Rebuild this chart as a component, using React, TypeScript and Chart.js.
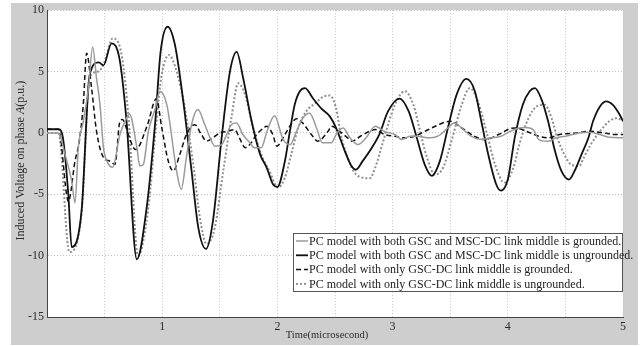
import React, { useEffect, useRef } from "react";
import { Chart, registerables } from "chart.js";

Chart.register(...registerables);

const legendLabels = [
  "PC model with both GSC and MSC-DC link middle is grounded.",
  "PC model with both GSC and MSC-DC link middle is ungrounded.",
  "PC model with only GSC-DC link middle is grounded.",
  "PC model with only GSC-DC link middle is ungrounded.",
];
const xTitle = "Time(microsecond)";
const yTitleParts = ["Induced Voltage on phase ", "A", "(p.u.)"];

// Series 1: both grounded (gray solid)
const bothGroundedX = [0, 0.1, 0.156, 0.214, 0.243, 0.272, 0.315, 0.36, 0.396, 0.43, 0.46, 0.49, 0.52, 0.57, 0.633, 0.69, 0.715, 0.78, 0.806, 0.835, 0.88, 0.94, 0.98, 1.04, 1.125, 1.165, 1.21, 1.255, 1.31, 1.37, 1.416, 1.457, 1.516, 1.56, 1.6, 1.646, 1.7, 1.75, 1.8, 1.86, 1.91, 1.975, 2.05, 2.11, 2.166, 2.22, 2.28, 2.34, 2.39, 2.47, 2.51, 2.57, 2.63, 2.7, 2.77, 2.85, 2.93, 3.02, 3.08, 3.15, 3.22, 3.3, 3.39, 3.48, 3.53, 3.6, 3.68, 3.77, 3.85, 3.94, 4.02, 4.1, 4.15, 4.22, 4.27, 4.35, 4.42, 4.5, 4.62, 4.71, 4.8, 4.88, 5.0];
const bothGroundedY = [0, 0, -1.75, -3.9, -5.7, -1.2, 0.95, 3.65, 7.0, 4.46, 2.3, -1.2, -2.3, -2.8, -0.13, 1.2, 1.55, -1.2, -2.7, -2.6, 0.13, 2.0, 3.37, 2.3, -3.1, -4.6, -2.0, 0.67, 1.9, 0.67, -0.4, -1.08, -0.95, -0.13, 0.67, 0.8, -0.13, -0.67, -1.2, -1.2, 0.13, 1.4, -0.54, -0.95, 0.13, 1.2, 1.6, 0.4, -0.8, -0.8, -0.13, 0.4, -0.4, -0.95, -0.4, 0.54, 0.13, -0.13, -0.54, -0.27, -0.27, -0.4, -0.27, 0.4, 0.8, 0.4, -0.27, -0.54, -0.4, -0.27, 0.13, 0.4, 0.45, 0.27, -0.54, -0.67, -0.4, -0.27, 0, 0.05, -0.13, -0.35, -0.4];

// Series 2: both ungrounded (black solid)
const bothUngroundedX = [0, 0.1, 0.14, 0.185, 0.214, 0.3, 0.37, 0.45, 0.49, 0.56, 0.63, 0.69, 0.78, 0.865, 0.94, 0.986, 1.047, 1.11, 1.18, 1.255, 1.313, 1.38, 1.44, 1.516, 1.588, 1.646, 1.703, 1.776, 1.85, 1.906, 1.963, 2.0, 2.065, 2.108, 2.15, 2.195, 2.24, 2.31, 2.38, 2.455, 2.51, 2.586, 2.643, 2.68, 2.74, 2.8, 2.886, 2.96, 3.06, 3.14, 3.21, 3.28, 3.34, 3.41, 3.48, 3.555, 3.64, 3.714, 3.77, 3.83, 3.9, 3.94, 4.0, 4.06, 4.13, 4.19, 4.235, 4.29, 4.35, 4.41, 4.465, 4.53, 4.58, 4.64, 4.7, 4.74, 4.8, 4.856, 4.91, 4.97, 5.0];
const bothUngroundedY = [0.3, 0.3, -0.5, -5, -9.3, -6.35, 4.7, 5.75, 5.5, 7.3, 6.0, 1.0, -10.3, -6.1, 0.95, 6.6, 8.65, 7.2, 2.8, -3.1, -7.7, -9.45, -7.2, -0.4, 5.0, 6.6, 4.46, 0.95, -1.75, -2.8, -4.2, -4.4, -2.3, 0.1, 2.3, 3.4, 3.65, 2.8, 2.0, 1.35, 0.4, -1.5, -2.7, -3.0, -2.3, -1.5, -0.1, 1.75, 2.8, 1.75, -0.4, -2.6, -3.5, -2.3, 0.4, 3.1, 4.4, 3.4, 0.95, -1.75, -4.2, -4.7, -3.8, -0.4, 2.3, 3.4, 3.65, 2.8, 0.95, -1.5, -3.1, -3.8, -3.1, -1.75, -0.4, 0.95, 2.16, 2.57, 2.3, 1.5, 0.95];

// Series 3: only GSC grounded (black dashed)
const gscGroundedX = [0, 0.1, 0.17, 0.185, 0.243, 0.28, 0.315, 0.344, 0.387, 0.43, 0.49, 0.546, 0.59, 0.633, 0.655, 0.706, 0.75, 0.77, 0.87, 0.95, 0.995, 1.053, 1.096, 1.153, 1.21, 1.284, 1.34, 1.385, 1.44, 1.5, 1.57, 1.63, 1.67, 1.72, 1.76, 1.82, 1.88, 1.906, 1.96, 1.995, 2.065, 2.137, 2.166, 2.22, 2.295, 2.35, 2.44, 2.47, 2.54, 2.61, 2.65, 2.72, 2.8, 2.85, 2.93, 3.02, 3.1, 3.19, 3.28, 3.37, 3.5, 3.6, 3.71, 3.8, 3.92, 4.02, 4.07, 4.16, 4.27, 4.35, 4.45, 4.6, 4.71, 4.83, 4.93, 5.0];
const gscGroundedY = [0.3, 0.3, -5.0, -5.6, -2.3, -0.7, 2.3, 6.5, 3.65, 0.13, -2.0, -2.3, -2.57, 0.95, 1.1, -0.13, -1.2, -1.35, 0.6, 2.8, 0.5, -2.3, -3.1, -1.75, -0.13, 0.67, -0.13, -0.67, -0.4, 0, 0.13, 0.27, -0.4, -1.2, -0.95, -0.13, 0.4, 0.54, -0.13, -1.08, -0.13, 0.95, 1.16, 0.8, -0.13, -0.67, 0.13, 0.54, 0.13, -0.4, -0.67, -0.27, 0.13, 0.27, -0.13, -0.27, -0.4, -0.27, 0.13, 0.54, 0.95, 0.4, -0.27, -0.54, -0.13, 0.35, 0.4, 0.13, -0.27, -0.4, -0.13, 0, 0.13, 0, -0.13, -0.13];

// Series 4: only GSC ungrounded (gray dotted)
const gscUngroundedX = [0, 0.1, 0.194, 0.3, 0.37, 0.445, 0.5, 0.57, 0.648, 0.71, 0.79, 0.88, 0.95, 0.995, 1.059, 1.125, 1.197, 1.27, 1.327, 1.385, 1.457, 1.53, 1.6, 1.66, 1.72, 1.79, 1.86, 1.93, 2.006, 2.065, 2.12, 2.18, 2.25, 2.33, 2.41, 2.455, 2.51, 2.55, 2.61, 2.67, 2.74, 2.8, 2.85, 2.91, 2.97, 3.02, 3.106, 3.18, 3.24, 3.29, 3.37, 3.44, 3.51, 3.6, 3.67, 3.74, 3.82, 3.89, 3.97, 4.05, 4.1, 4.18, 4.25, 4.32, 4.38, 4.43, 4.49, 4.55, 4.62, 4.66, 4.72, 4.8, 4.88, 4.94, 5.0];
const gscUngroundedY = [0, 0, -9.7, -6.6, 4.5, 5.0, 5.8, 7.7, 6.35, 1.0, -10.0, -6.1, 0.95, 4.7, 6.35, 5.0, 2.0, -2.6, -6.9, -9.05, -7.7, -3.1, 1.2, 4.05, 3.1, 0.4, -1.75, -3.1, -4.45, -3.65, -1.75, 0.4, 1.75, 2.43, 3.0, 3.05, 2.0, -0.1, -2.0, -3.24, -3.65, -3.7, -2.8, -0.95, 0.95, 2.3, 3.4, 2.3, 0.1, -1.75, -3.4, -2.8, -0.7, 2.3, 3.65, 2.57, -0.1, -2.6, -4.05, -2.8, -0.95, 1.2, 2.16, 2.3, 1.2, -0.4, -1.75, -2.57, -2.7, -2.0, -0.95, 0.13, 0.95, 1.2, 1.0];

const yTicks = [-15, -10, -5, 0, 5, 10];
const xMin = 0;
const xMax = 5;

const SERIF = "'Liberation Serif', 'Times New Roman', serif";

function pts(xs: number[], ys: number[]) {
  return xs.map((x, i) => ({ x, y: ys[i] }));
}

const panelPlugin = {
  id: "panel",
  beforeDraw(chart: any) {
    const ctx = chart.ctx;
    const a = chart.chartArea;
    ctx.save();
    ctx.fillStyle = "#ffffff";
    ctx.fillRect(0, 0, chart.width, chart.height);
    ctx.fillStyle = "#cecece";
    ctx.fillRect(11, 3, 627, 342);
    ctx.fillStyle = "#ffffff";
    ctx.fillRect(a.left, a.top, a.right - a.left, a.bottom - a.top);
    ctx.restore();
  },
};

const textPlugin = {
  id: "texts",
  afterDraw(chart: any) {
    const ctx = chart.ctx;
    const a = chart.chartArea;
    ctx.save();
    ctx.fillStyle = "#2a2a2a";
    ctx.textBaseline = "middle";
    // x title
    ctx.font = `10.5px ${SERIF}`;
    ctx.textAlign = "center";
    ctx.fillText(xTitle, 327, 335);
    // y title
    ctx.translate(21, (a.top + a.bottom) / 2 - 3);
    ctx.rotate(-Math.PI / 2);
    ctx.textAlign = "left";
    const fonts = [`12px ${SERIF}`, `italic 12px ${SERIF}`, `12px ${SERIF}`];
    let total = 0;
    const widths = yTitleParts.map((p, i) => {
      ctx.font = fonts[i];
      const w = ctx.measureText(p).width;
      total += w;
      return w;
    });
    let x = -total / 2;
    yTitleParts.forEach((p, i) => {
      ctx.font = fonts[i];
      ctx.fillText(p, x, 0);
      x += widths[i];
    });
    ctx.restore();

    // legend
    const boxL = 293;
    const boxR = a.right;
    const boxT = 233;
    const boxB = 292;
    ctx.save();
    ctx.fillStyle = "#ffffff";
    ctx.fillRect(boxL, boxT, boxR - boxL, boxB - boxT);
    ctx.strokeStyle = "#555555";
    ctx.lineWidth = 1;
    ctx.strokeRect(boxL + 0.5, boxT + 0.5, boxR - boxL - 1, boxB - boxT - 1);
    ctx.font = `12px ${SERIF}`;
    ctx.textBaseline = "middle";
    ctx.textAlign = "left";
    chart.data.datasets.forEach((ds: any, i: number) => {
      const yy = boxT + 8 + i * 14.3;
      ctx.save();
      ctx.strokeStyle = ds.borderColor;
      ctx.lineWidth = ds.borderWidth;
      ctx.setLineDash(ds.borderDash || []);
      ctx.beginPath();
      ctx.moveTo(boxL + 3, yy);
      ctx.lineTo(boxL + 15, yy);
      ctx.stroke();
      ctx.restore();
      ctx.fillStyle = "#222222";
      ctx.fillText(ds.label, boxL + 16, yy + 0.5);
    });
    ctx.restore();
  },
};

export default function App() {
  const ref = useRef<HTMLCanvasElement>(null);
  useEffect(() => {
    if (!ref.current) return;
    const chart = new Chart(ref.current, {
      type: "line",
      data: {
        datasets: [
          {
            label: legendLabels[0],
            data: pts(bothGroundedX, bothGroundedY),
            borderColor: "#9a9a9a",
            borderWidth: 1.5,
            borderDash: [],
          },
          {
            label: legendLabels[1],
            data: pts(bothUngroundedX, bothUngroundedY),
            borderColor: "#111111",
            borderWidth: 1.8,
            borderDash: [],
          },
          {
            label: legendLabels[2],
            data: pts(gscGroundedX, gscGroundedY),
            borderColor: "#111111",
            borderWidth: 1.5,
            borderDash: [5, 3],
          },
          {
            label: legendLabels[3],
            data: pts(gscUngroundedX, gscUngroundedY),
            borderColor: "#8f8f8f",
            borderWidth: 2,
            borderDash: [2, 2],
          },
        ] as any,
      },
      options: {
        animation: false,
        responsive: false,
        parsing: false as any,
        layout: { padding: { left: 0, top: 8, right: 17, bottom: 0 } },
        elements: {
          point: { radius: 0 },
          line: { cubicInterpolationMode: "monotone", fill: false },
        },
        plugins: {
          legend: { display: false },
          tooltip: { enabled: false },
        },
        scales: {
          x: {
            type: "linear",
            min: xMin,
            max: xMax,
            afterFit: (s: any) => {
              s.height = 29;
            },
            ticks: {
              stepSize: 0.5,
              autoSkip: false,
              maxRotation: 0,
              padding: 3,
              color: "#2a2a2a",
              font: { family: SERIF, size: 12 },
              callback: (v: any) => {
                const n = Number(v);
                return Number.isInteger(n) && n > 0 ? String(n) : "";
              },
            },
            grid: { color: "#c4c4c4", lineWidth: 1, drawTicks: false, tickLength: 0 },
            border: { display: true, color: "#444444", width: 1, dash: [1, 2] },
          },
          y: {
            type: "linear",
            min: yTicks[0],
            max: yTicks[yTicks.length - 1],
            afterFit: (s: any) => {
              s.width = 47;
            },
            afterBuildTicks: (s: any) => {
              s.ticks = yTicks.map((v) => ({ value: v }));
            },
            ticks: {
              padding: 3,
              color: "#2a2a2a",
              font: { family: SERIF, size: 12 },
              callback: (v: any) => String(v),
            },
            grid: { color: "#c4c4c4", lineWidth: 1, drawTicks: false, tickLength: 0 },
            border: { display: true, color: "#444444", width: 1, dash: [1, 2] },
          },
        },
      },
      plugins: [panelPlugin, textPlugin],
    });
    return () => chart.destroy();
  }, []);
  return (
    <div style={{ position: "fixed", left: 0, top: 0, width: 640, height: 346 }}>
      <canvas ref={ref} width={640} height={346} style={{ display: "block", width: 640, height: 346 }} />
    </div>
  );
}
